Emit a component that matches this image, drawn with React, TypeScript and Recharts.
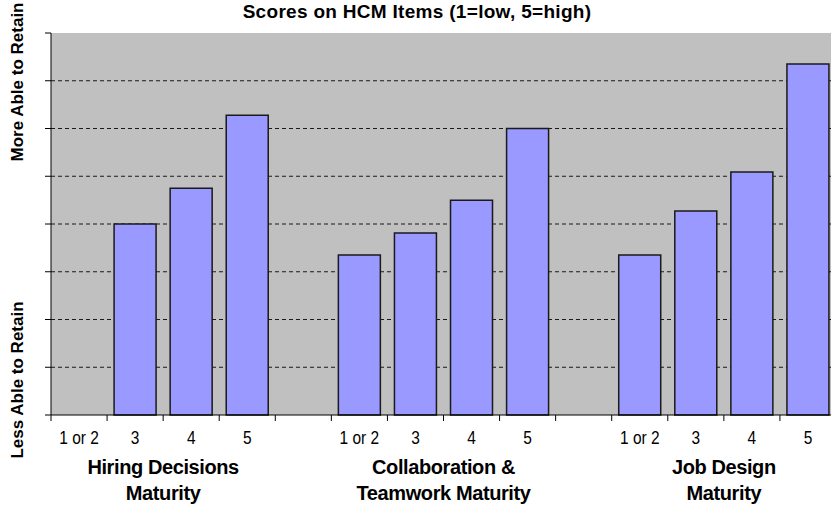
import React from "react";
import { BarChart, Bar, XAxis, YAxis, CartesianGrid } from "recharts";

// Scores on HCM items, three maturity groups with a blank slot between them
const slotLabels = ["1 or 2", "3", "4", "5", "", "1 or 2", "3", "4", "5", "", "1 or 2", "3", "4", "5"];
const retainScores = [null, 4.0, 4.75, 6.28, null, 3.35, 3.81, 4.5, 6.0, null, 3.35, 4.27, 5.09, 7.35];
const groupLabels = [
  ["Hiring Decisions", "Maturity"],
  ["Collaboration &", "Teamwork Maturity"],
  ["Job Design", "Maturity"],
];
const yTicks = [0, 1, 2, 3, 4, 5, 6, 7, 8];
const gridValues = [1, 2, 3, 4, 5, 6, 7];

// slot = middle of each category on a 0..n numeric scale (used for the boundary ticks and group captions)
const data = slotLabels.map((label, i) => ({ label, slot: i + 0.5, score: retainScores[i] }));
const edgeTicks = slotLabels.map((_, i) => i).concat(slotLabels.length);
const groupTicks = groupLabels.map((_, g) => g * 5 + 2);

const NoLabel = () => <g />;

const CatTick = (props: any) => {
  const { x, y, payload } = props;
  return (
    <text transform={`translate(${x},${y}) scale(0.86,1)`} x={0} y={0} dy={20} textAnchor="middle"
      fontSize={18} fontFamily="'Liberation Sans', Arial, sans-serif" fill="#000">
      {payload.value}
    </text>
  );
};

const GroupTick = (props: any) => {
  const { x, y, payload } = props;
  const lines = groupLabels[groupTicks.indexOf(payload.value)] || [];
  return (
    <text x={x} y={y} textAnchor="middle" fontSize={20} fontWeight="bold" letterSpacing={-0.4}
      fontFamily="'Liberation Sans', Arial, sans-serif" fill="#000">
      <tspan x={x} dy={14}>{lines[0]}</tspan>
      <tspan x={x} dy={26}>{lines[1]}</tspan>
    </text>
  );
};

const SideLabels = (props: any) => {
  const vb = props.viewBox || { x: 0, y: 33 };
  const cx = vb.x + 17;
  return (
    <g>
      <text x={cx} y={vb.y + 49} transform={`rotate(-90 ${cx} ${vb.y + 49})`} textAnchor="middle"
        dominantBaseline="central" fill="#000" fontSize={17} fontWeight="bold"
        fontFamily="'Liberation Sans', Arial, sans-serif">
        More Able to Retain
      </text>
      <text x={cx} y={vb.y + 347} transform={`rotate(-90 ${cx} ${vb.y + 347})`} textAnchor="middle"
        dominantBaseline="central" fill="#000" fontSize={17} fontWeight="bold"
        fontFamily="'Liberation Sans', Arial, sans-serif">
        Less Able to Retain
      </text>
    </g>
  );
};

export default function App() {
  return (
    <div style={{ position: "absolute", left: 0, top: 0, width: 831, height: 505, overflow: "hidden", background: "#fff" }}>
      <BarChart width={840} height={505} data={data} barCategoryGap="12.5%"
        margin={{ top: 33, right: 4, bottom: 0, left: 0 }}>
        <text x={417} y={18} textAnchor="middle" fontSize={19} fontWeight="bold" letterSpacing={0.3}
          fontFamily="'Liberation Sans', Arial, sans-serif" fill="#000">
          Scores on HCM Items (1=low, 5=high)
        </text>
        <CartesianGrid xAxisId="bxCats" vertical={false} fill="#C0C0C0" stroke="#1a1a1a"
          strokeDasharray="4 3" horizontalValues={gridValues} />
        <XAxis xAxisId="axEdges" dataKey="slot" type="number" domain={[0, slotLabels.length]} ticks={edgeTicks}
          tick={<NoLabel />} tickSize={6} height={1} stroke="#000" allowDataOverflow />
        <XAxis xAxisId="bxCats" dataKey="label" axisLine={false} tickLine={false} interval={0}
          height={36} tick={<CatTick />} />
        <XAxis xAxisId="cxGroups" dataKey="slot" type="number" domain={[0, slotLabels.length]} ticks={groupTicks}
          axisLine={false} tickLine={false} height={53} tick={<GroupTick />} allowDataOverflow />
        <YAxis domain={[0, 8]} ticks={yTicks} tick={<NoLabel />} tickSize={6} width={51} stroke="#000"
          label={{ content: (p: any) => <SideLabels {...p} /> }} />
        <Bar xAxisId="bxCats" dataKey="score" fill="#9999FF" stroke="#1a1a1a" strokeWidth={1.5}
          isAnimationActive={false} />
      </BarChart>
    </div>
  );
}
